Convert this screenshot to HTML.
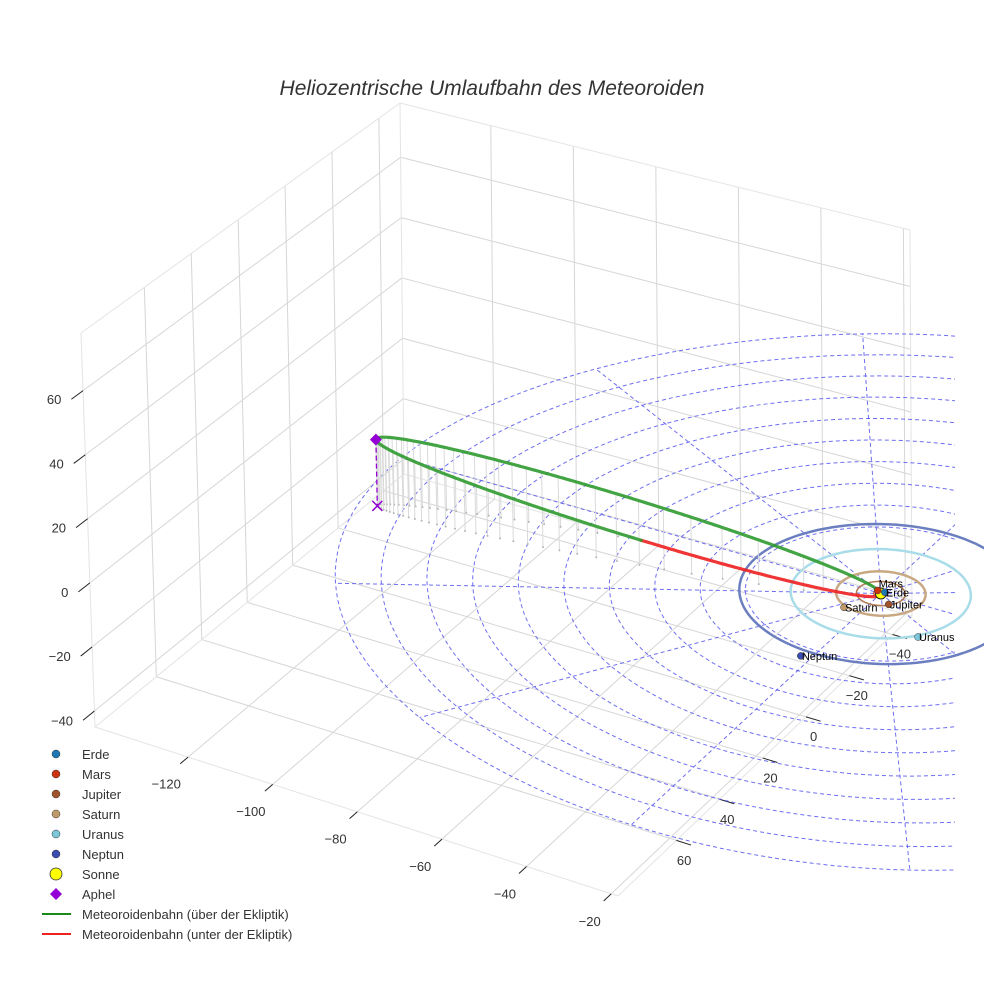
<!DOCTYPE html>
<html><head><meta charset="utf-8">
<style>
html,body{margin:0;padding:0;background:#fff;}
svg{display:block;font-family:"Liberation Sans",sans-serif;}
</style></head>
<body>
<svg id="chart" width="984" height="984" viewBox="0 0 984 984">
<defs><clipPath id="scn"><rect x="0" y="0" width="955" height="912"/></clipPath></defs>
<text x="492" y="95" text-anchor="middle" font-size="21" font-style="italic" fill="#333">Heliozentrische Umlaufbahn des Meteoroiden</text>
<g id="box"></g>
<g id="ticks"></g>
<g id="ecl" clip-path="url(#scn)"></g>
<g id="porb"></g>
<g id="drops"></g>
<g id="orbit"></g>
<g id="marks"></g>
<g id="legend"></g>
</svg>
<script>
// ---- data ----
const planetNames = ["Erde","Mars","Jupiter","Saturn","Uranus","Neptun"];
const planetColors = ["#1f77b4","#cc3311","#a0522d","#c09a6b","#7ec8dc","#3b4cb0"];
const planetX = [0.5,-1.2,3.6,-4.0,15.4,-2.3];
const planetY = [-0.9,-0.8,3.3,9.3,12.5,32.5];
const planetRadius = [1.0,1.52,5.2,9.54,19.2,30.1];
const ringColors = ["#1f77b4","#cc3311","#b07a55","#c8a882","#a8dce8","#6b7fc0"];
const ringWidths = [1,1,1.5,2.5,2.5,2.5];
const aphel = [-109,22,21];
const perihel = [0.3,0.2,0];
const orbitSide = [2.46,4.87,10];
const gridRadii = [9.6,19.2,28.8,38.4,48,57.6,67.2,76.8,86.4,96,105.6,115.2];
const spokeAngles = [0,30,60,90,120,150,180,210,240,270,300,330];
const xTicks = [-120,-100,-80,-60,-40,-20];
const yTicks = [-40,-20,0,20,40,60];
const zTicks = [-40,-20,0,20,40,60];

// ---- axes / projection ----
const X0=-142,X1=-18.4,Y0=-49,Y1=87,Z0=-45,Z1=78;
const B=[404,474],C=[912,616],A=[95,727],D=[618,896];
const Bt=[400,103],Ct=[910,230],At=[81,333],Dt=[608,481];
function bil(p00,p10,p01,p11,u,v){
  return [p00[0]+u*(p10[0]-p00[0])+v*(p01[0]-p00[0])+u*v*(p11[0]-p10[0]-p01[0]+p00[0]),
          p00[1]+u*(p10[1]-p00[1])+v*(p01[1]-p00[1])+u*v*(p11[1]-p10[1]-p01[1]+p00[1])];
}
function P(x,y,z){
  const u=(x-X0)/(X1-X0), v=(y-Y0)/(Y1-Y0), w=(z-Z0)/(Z1-Z0);
  const b=bil(B,C,A,D,u,v), t=bil(Bt,Ct,At,Dt,u,v);
  return [b[0]+w*(t[0]-b[0]), b[1]+w*(t[1]-b[1])];
}
const NS="http://www.w3.org/2000/svg";
function el(tag,attrs,parent){const e=document.createElementNS(NS,tag);for(const k in attrs)e.setAttribute(k,attrs[k]);parent.appendChild(e);return e;}
function pts(arr){return arr.map(p=>p[0].toFixed(1)+","+p[1].toFixed(1)).join(" ");}
function line(p,q,stroke,w,parent,extra){const e=el("line",Object.assign({x1:p[0],y1:p[1],x2:q[0],y2:q[1],stroke:stroke,"stroke-width":w},extra||{}),parent);return e;}

// ---- box ----
const box=document.getElementById("box");
const gc="#d6d6d6";
for(const x of xTicks){const e=line(P(x,Y0,Z0),P(x,Y1,Z0),gc,1,box);

}
for(const y of yTicks){const e=line(P(X0,y,Z0),P(X1,y,Z0),gc,1,box);

}
for(const y of yTicks){const e=line(P(X0,y,Z0),P(X0,y,Z1),gc,1,box);

}
for(const z of zTicks){const e=line(P(X0,Y0,z),P(X0,Y1,z),gc,1,box);

}
for(const x of xTicks){const e=line(P(x,Y0,Z0),P(x,Y0,Z1),gc,1,box);

}
for(const z of zTicks){const e=line(P(X0,Y0,z),P(X1,Y0,z),gc,1,box);

}
const ec="#e4e4e4";
[[P(X0,Y1,Z0),P(X0,Y1,Z1)],[P(X0,Y0,Z0),P(X0,Y0,Z1)],[P(X1,Y0,Z0),P(X1,Y0,Z1)],
 [P(X0,Y1,Z1),P(X0,Y0,Z1)],[P(X0,Y0,Z1),P(X1,Y0,Z1)],
 [P(X0,Y1,Z0),P(X1,Y1,Z0)],[P(X1,Y1,Z0),P(X1,Y0,Z0)],[P(X0,Y1,Z0),P(X0,Y0,Z0)],[P(X0,Y0,Z0),P(X1,Y0,Z0)]]
 .forEach(s=>{const e=line(s[0],s[1],ec,1,box);
 
 });

// ---- ticks ----
const tk=document.getElementById("ticks");
for(const x of xTicks){const p=P(x,Y1,Z0),q=P(x,Y1+3.5,Z0);
 const l=line(p,q,"#222",1,tk);
 
 
 const t=el("text",{x:q[0]-14,y:q[1]+25,"text-anchor":"middle","font-size":13,fill:"#333"},tk);
 t.textContent="\u2212"+Math.abs(x);
 
 }
for(const y of yTicks){const p=P(X1,y,Z0),q=P(X1+3.5,y,Z0);
 const l=line(p,q,"#222",1,tk);
 
 
 const t=el("text",{x:q[0]-7,y:q[1]+20,"text-anchor":"middle","font-size":13,fill:"#333"},tk);
 t.textContent=(y<0?"\u2212":"")+Math.abs(y);
 
 }
for(const z of zTicks){const p=P(X0,Y1,z),q=P(X0,Y1+5,z);
 const l=line(p,q,"#222",1,tk);
 
 
 const t=el("text",{x:q[0]-10,y:q[1]+5,"text-anchor":"end","font-size":13,fill:"#333"},tk);
 t.textContent=(z<0?"\u2212":"")+Math.abs(z);
 
 }

// ---- ecliptic polar grid ----
const ecl=document.getElementById("ecl");
const rMax=gridRadii[gridRadii.length-1];
for(const r of gridRadii){const ar=[];for(let i=0;i<=180;i++){const a=i/180*2*Math.PI;ar.push(P(r*Math.cos(a),r*Math.sin(a),0));}
 const e=el("polyline",{points:pts(ar),fill:"none",stroke:"#5555ee","stroke-width":1,"stroke-dasharray":"4,3",opacity:0.85},ecl);
 
 }
for(const a of spokeAngles){const rad=a*Math.PI/180;
 const e=line(P(0,0,0),P(rMax*Math.cos(rad),rMax*Math.sin(rad),0),"#5555ee",1,ecl,{"stroke-dasharray":"4,3",opacity:0.85});
 
 }

// ---- planet orbits ----
const po=document.getElementById("porb");
planetRadius.forEach((r,i)=>{const ar=[];for(let k=0;k<=120;k++){const a=k/120*2*Math.PI;ar.push(P(r*Math.cos(a),r*Math.sin(a),0));}
 const e=el("polyline",{points:pts(ar),fill:"none",stroke:ringColors[i],"stroke-width":ringWidths[i]},po);
 
 });

// ---- meteoroid orbit ----
const U=[0,1,2].map(k=>(aphel[k]-perihel[k])/2), Cc=[0,1,2].map(k=>(aphel[k]+perihel[k])/2);
function orb(E){return [0,1,2].map(k=>Cc[k]+Math.cos(E)*U[k]+Math.sin(E)*orbitSide[k]);}
const dr=document.getElementById("drops");
const rA=Math.hypot(...aphel), rP=Math.hypot(...perihel), ecc=(rA-rP)/(rA+rP);
for(let i=0;i<70;i++){const M=i/70*2*Math.PI;let E=M;for(let j=0;j<60;j++)E=E-(E-ecc*Math.sin(E)-M)/(1-ecc*Math.cos(E));
 const q=orb(E+Math.PI); if(q[2]<=0.5)continue;
 const top=P(q[0],q[1],q[2]),bot=P(q[0],q[1],0);
 const l=line(top,bot,"#dadada",1,dr);
 
 
 const c=el("circle",{cx:bot[0],cy:bot[1],r:1,fill:"#b5b5b5"},dr);
 
 }
const og=document.getElementById("orbit");
let seg=[],segSign=null;
function flush(){if(seg.length>1){const e=el("polyline",{points:pts(seg),fill:"none",stroke:segSign?"#2f9a2f":"#ee2020","stroke-width":3.2,"stroke-linecap":"round",opacity:0.9},og);
 
 }}
for(let i=0;i<=600;i++){const E=i/600*2*Math.PI;const q=orb(E);const s=q[2]>=0;const p=P(q[0],q[1],q[2]);
 if(segSign===null)segSign=s;
 if(s!==segSign){seg.push(p);flush();seg=[p];segSign=s;}else seg.push(p);}
flush();

// ---- markers ----
const mk=document.getElementById("marks");
const ap=P(aphel[0],aphel[1],aphel[2]), ap0=P(aphel[0],aphel[1],0);
const al=line(ap,ap0,"#9400d3",1.3,mk,{"stroke-dasharray":"5,3"});


const ax=el("path",{d:`M${ap0[0]-5},${ap0[1]-5}L${ap0[0]+5},${ap0[1]+5}M${ap0[0]-5},${ap0[1]+5}L${ap0[0]+5},${ap0[1]-5}`,stroke:"#9400d3","stroke-width":1.5},mk);


const ad=el("path",{d:`M${ap[0]},${ap[1]-6}L${ap[0]+6},${ap[1]}L${ap[0]},${ap[1]+6}L${ap[0]-6},${ap[1]}Z`,fill:"#9400d3"},mk);


const sp=P(0,0,0);
const sun=el("circle",{cx:sp[0],cy:sp[1],r:5.5,fill:"#ffff00",stroke:"#222","stroke-width":1},mk);


planetNames.forEach((n,i)=>{const p=P(planetX[i],planetY[i],0);
 const c=el("circle",{cx:p[0],cy:p[1],r:3.5,fill:planetColors[i],stroke:"#333","stroke-width":0.5},mk);
 
 
 const dy=(n==="Mars")?-3:4;
 const t=el("text",{x:p[0]+1,y:p[1]+dy,"font-size":11,fill:"#000"},mk);
 t.textContent=n;
 
 });

// ---- legend ----
const lg=document.getElementById("legend");
const legNames=["Erde","Mars","Jupiter","Saturn","Uranus","Neptun","Sonne","Aphel","Meteoroidenbahn (über der Ekliptik)","Meteoroidenbahn (unter der Ekliptik)"];
legNames.forEach((n,i)=>{const y=754+i*20;
 let m;
 if(i<6){m=el("circle",{cx:56,cy:y,r:4,fill:planetColors[i],stroke:"#333","stroke-width":0.5},lg);}
 else if(i===6){m=el("circle",{cx:56,cy:y,r:6,fill:"#ffff00",stroke:"#333","stroke-width":0.8},lg);}
 else if(i===7){m=el("path",{d:`M56,${y-6}L62,${y}L56,${y+6}L50,${y}Z`,fill:"#9400d3"},lg);}
 else {m=line([42,y],[71,y],i===8?"#1a8a1a":"#ee2020",2,lg);}
 
 
 const t=el("text",{x:82,y:y+5,"font-size":13,fill:"#333"},lg);
 t.textContent=n;
 
 });
</script>
</body></html>
